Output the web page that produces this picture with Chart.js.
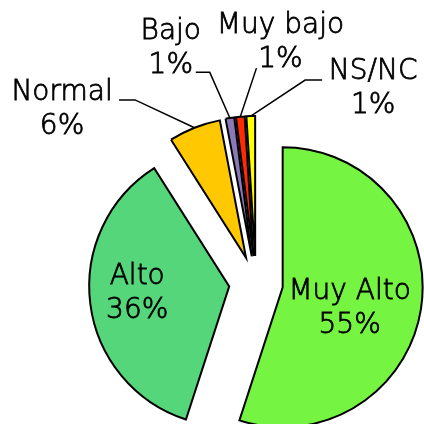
<!DOCTYPE html>
<html>
<head>
<meta charset="utf-8">
<script src="https://cdn.jsdelivr.net/npm/chart.js@4.4.1/dist/chart.umd.min.js"></script>
<style>
    html, body { margin: 0; padding: 0; background: #ffffff; }
    #wrap { width: 424px; height: 424px; }
</style>
</head>
<body>
<div id="wrap"><canvas id="pie_chart" width="424" height="424"></canvas></div>
<script>
const categories = ["Muy Alto", "Alto", "Normal", "Bajo", "Muy bajo", "NS/NC"];
const values = [55, 36, 6, 1, 1, 1];
const percent_labels = ["55%", "36%", "6%", "1%", "1%", "1%"];
const colors = ["#76f442", "#56d67a", "#ffc800", "#8a78b8", "#ff2a00", "#ffff00"];

// label block centre relative to the exploded slice tip, and leader line points relative to label centre
const label_shift = [[67, 21], [-92, 7], [-184, -148], [-81, -208], [27, -213], [118, -167]];
const leader_start = [null, null, [57, -10], [25, 24], [-24, 25], [-51, -9]];
const leader_elbow = [null, null, [73, -10], [39, 24], null, [-68, -9]];

const explode = 108; // chart.js moves each slice by offset / 4
const pie_radius = 140;
const font_size = 28;

function slice_tip(el) {
    let mid = (el.startAngle + el.endAngle) / 2;
    let d = el.options.offset / 4;
    return { x: el.x + Math.cos(mid) * d, y: el.y + Math.sin(mid) * d, mid: mid };
}

// chart.js grows and narrows a pulled-out slice; undo that so every slice keeps
// the same radius and its real angle
const even_radius = {
    id: "even_radius",
    beforeDatasetsDraw(chart) {
        let meta = chart.getDatasetMeta(0);
        let base = meta.controller.outerRadius;
        meta.data.forEach((el) => {
            let fix = 1 - Math.sin(Math.min(Math.PI, el.circumference));
            let grow = (el.options.offset / 4) * fix;
            el.outerRadius = base - grow;
            let mid = (el.startAngle + el.endAngle) / 2;
            let half = (el.circumference + grow / (Math.PI * base)) / 2;
            el.startAngle = mid - half;
            el.endAngle = mid + half;
        });
    }
};

function draw_text(ctx, text, x, y) {
    ctx.fillText(text, x, y);
    ctx.strokeText(text, x, y);
}

const slice_labels = {
    id: "slice_labels",
    afterDatasetsDraw(chart) {
        let ctx = chart.ctx;
        let meta = chart.getDatasetMeta(0);
        ctx.save();
        ctx.font = "200 " + font_size + "px 'DejaVu Sans'";
        ctx.fillStyle = "#000000";
        ctx.strokeStyle = "#000000";
        ctx.textAlign = "center";
        ctx.textBaseline = "middle";
        meta.data.forEach((el, i) => {
            let tip = slice_tip(el);
            let cx = tip.x + label_shift[i][0];
            let cy = tip.y + label_shift[i][1];
            ctx.lineWidth = 0.8;
            draw_text(ctx, categories[i], cx, cy - 17);
            draw_text(ctx, percent_labels[i], cx, cy + 17);
            if (leader_start[i]) {
                let r = pie_radius;
                let ex = tip.x + Math.cos(tip.mid) * r;
                let ey = tip.y + Math.sin(tip.mid) * r;
                ctx.beginPath();
                ctx.lineWidth = 1.5;
                ctx.moveTo(cx + leader_start[i][0], cy + leader_start[i][1]);
                if (leader_elbow[i]) {
                    ctx.lineTo(cx + leader_elbow[i][0], cy + leader_elbow[i][1]);
                }
                ctx.lineTo(ex, ey);
                ctx.stroke();
            }
        });
        ctx.restore();
    }
};

var pieChart = new Chart(
    document.getElementById("pie_chart"),
    {
        type: "pie",
        data: {
            labels: categories,
            datasets: [
                {
                    data: values,
                    backgroundColor: colors,
                    borderColor: "#000000",
                    borderWidth: 2,
                    borderJoinStyle: "miter",
                    offset: explode,
                }
            ]
        },
        options: {
            responsive: false,
            animation: false,
            radius: pie_radius,
            layout: {
                padding: { left: 88, right: 0, top: 142, bottom: 0 }
            },
            plugins: {
                legend: { display: false },
                tooltip: { enabled: false }
            }
        },
        plugins: [even_radius, slice_labels]
    }
);
</script>
</body>
</html>
